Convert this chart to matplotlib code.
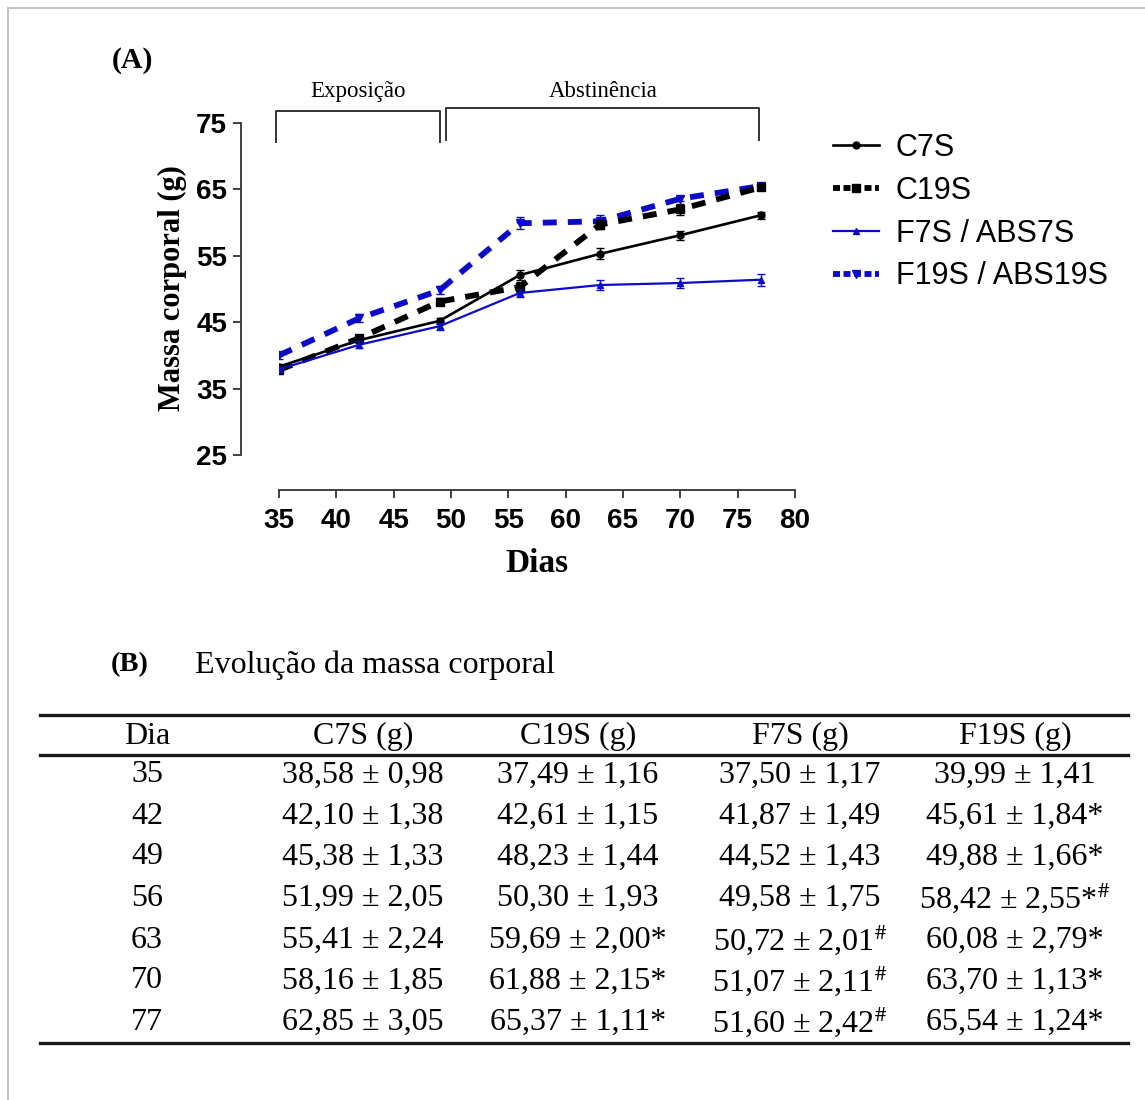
import matplotlib
matplotlib.use("Agg")
import matplotlib.pyplot as plt
from matplotlib.lines import Line2D

plt.rcParams['mathtext.fontset'] = 'stix'

# ---------------- data ----------------
days = [35, 42, 49, 56, 63, 70, 77]
c7s = [38.3, 42.3, 45.2, 52.1, 55.3, 58.1, 61.1]
c19s = [37.8, 42.6, 48.1, 50.3, 59.7, 62.0, 65.3]
f7s = [37.9, 41.6, 44.4, 49.4, 50.6, 50.9, 51.4]
f19s = [40.0, 45.6, 49.8, 59.9, 60.2, 63.6, 65.5]
c7s_err = [0.4, 0.5, 0.5, 0.8, 0.8, 0.7, 0.5]
c19s_err = [0.4, 0.4, 0.5, 0.7, 0.7, 0.8, 0.4]
f7s_err = [0.4, 0.5, 0.5, 0.6, 0.7, 0.7, 0.9]
f19s_err = [0.5, 0.6, 0.6, 0.9, 0.9, 0.4, 0.4]
labels = ["C7S", "C19S", "F7S / ABS7S", "F19S / ABS19S"]
xticks = [35, 40, 45, 50, 55, 60, 65, 70, 75, 80]
yticks = [25, 35, 45, 55, 65, 75]
phases = ["Exposição", "Abstinência"]

table_header = ["Dia", "C7S (g)", "C19S (g)", "F7S (g)", "F19S (g)"]
table_days = ["35", "42", "49", "56", "63", "70", "77"]
table_c7s = ["38,58 ± 0,98", "42,10 ± 1,38", "45,38 ± 1,33", "51,99 ± 2,05",
             "55,41 ± 2,24", "58,16 ± 1,85", "62,85 ± 3,05"]
table_c19s = ["37,49 ± 1,16", "42,61 ± 1,15", "48,23 ± 1,44", "50,30 ± 1,93",
              "59,69 ± 2,00*", "61,88 ± 2,15*", "65,37 ± 1,11*"]
table_f7s = ["37,50 ± 1,17", "41,87 ± 1,49", "44,52 ± 1,43", "49,58 ± 1,75",
             "50,72 ± 2,01$^{\\#}$", "51,07 ± 2,11$^{\\#}$", "51,60 ± 2,42$^{\\#}$"]
table_f19s = ["39,99 ± 1,41", "45,61 ± 1,84*", "49,88 ± 1,66*", "58,42 ± 2,55*$^{\\#}$",
              "60,08 ± 2,79*", "63,70 ± 1,13*", "65,54 ± 1,24*"]

# ---------------- figure ----------------
W, H = 1145, 1100
fig = plt.figure(figsize=(W / 100, H / 100), dpi=100)
PT = 72 / 100  # points per pixel

def fx(px):
    return px / W

def fy(py):
    return 1 - py / H

serif = ['Liberation Serif', 'DejaVu Serif']
sans = ['Liberation Sans', 'DejaVu Sans']

# light gray frame (top & left)
fig.add_artist(Line2D([fx(8), 1], [fy(7.5), fy(7.5)], color='#c4c4c4', lw=1.5))
fig.add_artist(Line2D([fx(8), fx(8)], [fy(7.5), 0], color='#c4c4c4', lw=1.5))

# ---------------- panel A ----------------
ax = fig.add_axes([fx(279), fy(455), fx(795) - fx(279), fy(123) - fy(455)])
ax.set_xlim(35, 80)
ax.set_ylim(25, 75)

blue = '#0b0bc8'
ax.errorbar(days, c7s, yerr=c7s_err, color='black', lw=1.9, marker='o', ms=5,
            capsize=3, elinewidth=1.0, zorder=4)
ax.errorbar(days, c19s, yerr=c19s_err, color='black', lw=4.2, marker='s', ms=6,
            capsize=3, elinewidth=1.0, dashes=(2.4, 1.9), zorder=3)
ax.errorbar(days, f7s, yerr=f7s_err, color=blue, lw=1.6, marker='^', ms=5,
            capsize=3, elinewidth=1.0, zorder=5)
ax.errorbar(days, f19s, yerr=f19s_err, color=blue, lw=4.2, marker='v', ms=6,
            capsize=3, elinewidth=1.0, dashes=(2.4, 1.9), zorder=2)

for s in ['top', 'right']:
    ax.spines[s].set_visible(False)
ax.spines['left'].set_position(('outward', 38 * PT))
ax.spines['bottom'].set_position(('outward', 35 * PT))
ax.spines['left'].set_bounds(25, 75)
ax.spines['bottom'].set_bounds(35, 80)
for s in ['left', 'bottom']:
    ax.spines[s].set_linewidth(1.3)
    ax.spines[s].set_color('#333333')
ax.set_xticks(xticks)
ax.set_yticks(yticks)
ax.tick_params(axis='both', length=6, width=1.3, color='#333333')
ax.tick_params(axis='x', pad=7)
ax.tick_params(axis='y', pad=4)
for lab in ax.get_xticklabels() + ax.get_yticklabels():
    lab.set_fontfamily(sans)
    lab.set_fontsize(20)
    lab.set_fontweight('bold')

fig.text(fx(172), fy(288), "Massa corporal (g)", rotation=90, ha='center', va='center',
         family=serif, fontsize=22, fontweight='bold')
fig.text(fx(537), fy(563), "Dias", ha='center', va='center',
         family=serif, fontsize=24, fontweight='bold')
fig.text(fx(112), fy(61), "(A)", ha='left', va='center',
         family=serif, fontsize=21.5, fontweight='bold')

# phase brackets
br_kw = dict(color='#333333', lw=1.4, clip_on=False)
ax.plot([34.7, 34.7, 49.0, 49.0], [72.1, 76.8, 76.8, 72.1], **br_kw)
ax.plot([49.6, 49.6, 76.9, 76.9], [72.4, 77.3, 77.3, 72.4], **br_kw)
ax.text(41.9, 79.8, phases[0], ha='center', va='center', family=serif, fontsize=16.5)
ax.text(63.3, 79.8, phases[1], ha='center', va='center', family=serif, fontsize=16.5)

handles = [
    Line2D([], [], color='black', lw=1.9, marker='o', ms=5),
    Line2D([], [], color='black', lw=4.2, marker='s', ms=6, dashes=(1.2, 0.6)),
    Line2D([], [], color=blue, lw=1.6, marker='^', ms=5),
    Line2D([], [], color=blue, lw=4.2, marker='v', ms=6, dashes=(1.2, 0.6)),
]
leg = ax.legend(handles, labels, loc='upper left', bbox_to_anchor=(fx(833), fy(133)),
                bbox_transform=fig.transFigure, frameon=False, prop={'family': sans, 'size': 22},
                handlelength=1.5, handletextpad=0.55, labelspacing=0.42, borderpad=0,
                borderaxespad=0)

# ---------------- panel B ----------------
fig.text(fx(111), fy(665), "(B)", ha='left', va='center',
         family=serif, fontsize=20.5, fontweight='bold')
fig.text(fx(195), fy(665), "Evolução da massa corporal", ha='left', va='center',
         family=serif, fontsize=23)

for yy in [715, 755, 1043]:
    fig.add_artist(Line2D([fx(40), fx(1128)], [fy(yy), fy(yy)], color='#1a1a1a', lw=2.4))

col_x = [147, 363, 578, 800, 1015]
for xx, t in zip(col_x, table_header):
    fig.text(fx(xx), fy(736), t, ha='center', va='center', family=serif, fontsize=23)

cols = [table_days, table_c7s, table_c19s, table_f7s, table_f19s]
row_y = [775, 816, 857, 898, 940, 981, 1022]
for xx, col in zip(col_x, cols):
    for yy, t in zip(row_y, col):
        fig.text(fx(xx), fy(yy), t, ha='center', va='center', family=serif, fontsize=23)

fig.savefig("out.png", dpi=100, facecolor='white')
